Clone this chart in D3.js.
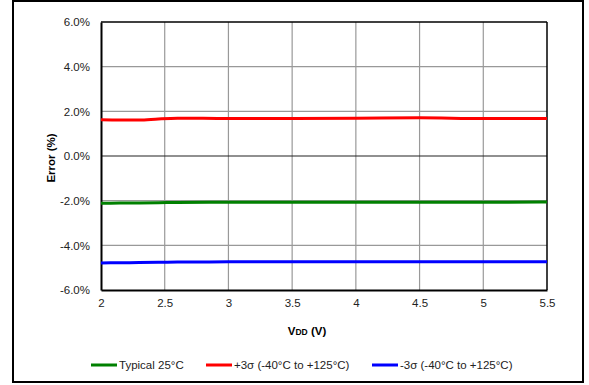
<!DOCTYPE html>
<html><head><meta charset="utf-8">
<script src="https://cdn.jsdelivr.net/npm/d3@7"></script>
<style>body{margin:0;background:#fff}svg{display:block;font-family:"Liberation Sans",Arial,sans-serif}</style>
</head><body><svg id="c" width="589" height="385"></svg>
<script>
const vdd      = [2, 2.15, 2.3, 2.45, 2.6, 3, 3.5, 4, 4.5, 5, 5.5];
const typical  = [-2.12, -2.11, -2.1, -2.09, -2.08, -2.07, -2.07, -2.07, -2.07, -2.07, -2.06];
const plus3s   = [1.62, 1.61, 1.61, 1.66, 1.69, 1.68, 1.68, 1.69, 1.71, 1.68, 1.68];
const minus3s  = [-4.79, -4.78, -4.77, -4.76, -4.75, -4.74, -4.74, -4.74, -4.74, -4.73, -4.73];
const xTicks   = [2, 2.5, 3, 3.5, 4, 4.5, 5, 5.5];
const yTicks   = [-6, -4, -2, 0, 2, 4, 6];
const seriesNames = ["Typical 25°C", "+3σ (-40°C to +125°C)", "-3σ (-40°C to +125°C)"];
const seriesColors = ["#008000", "#ff0000", "#0000ff"];

const svg = d3.select("#c");
const L = 101, R = 547, T = 22, B = 290;
const x = d3.scaleLinear().domain([2, 5.5]).range([L, R]);
const y = d3.scaleLinear().domain([-6, 6]).range([B, T]);

// outer frame
svg.append("rect").attr("x", 13).attr("y", 1).attr("width", 570).attr("height", 381)
  .attr("fill", "none").attr("stroke", "#000").attr("stroke-width", 2);

// gridlines
svg.append("g").selectAll("line").data(xTicks.slice(1, -1)).join("line")
  .attr("x1", d => x(d)).attr("x2", d => x(d)).attr("y1", T).attr("y2", B)
  .attr("stroke", "#999").attr("stroke-width", 1.2);
svg.append("g").selectAll("line").data(yTicks.filter(d => d !== 0 && d !== 6 && d !== -6)).join("line")
  .attr("x1", L).attr("x2", R).attr("y1", d => y(d)).attr("y2", d => y(d))
  .attr("stroke", "#999").attr("stroke-width", 1.2);
svg.append("line").attr("x1", L).attr("x2", R).attr("y1", y(0)).attr("y2", y(0))
  .attr("stroke", "#222").attr("stroke-width", 1.2);

// plot frame
svg.append("line").attr("x1", L).attr("x2", R).attr("y1", T).attr("y2", T).attr("stroke", "#000").attr("stroke-width", 1.5);
svg.append("line").attr("x1", R).attr("x2", R).attr("y1", T).attr("y2", B).attr("stroke", "#000").attr("stroke-width", 1.5);

// axes
const yAxis = d3.axisLeft(y).tickValues(yTicks).tickSize(0).tickPadding(11).tickFormat(d => d.toFixed(1) + "%");
const gy = svg.append("g").attr("transform", `translate(${L},0)`).call(yAxis);
gy.select(".domain").attr("stroke", "#000").attr("stroke-width", 2);
gy.selectAll("text").attr("font-size", 11.5).attr("fill", "#222").attr("font-family", "Liberation Sans, Arial");

const xAxis = d3.axisBottom(x).tickValues(xTicks).tickSize(0).tickPadding(9).tickFormat(d3.format("~g"));
const gx = svg.append("g").attr("transform", `translate(0,${B})`).call(xAxis);
gx.select(".domain").attr("stroke", "#000").attr("stroke-width", 2);
gx.selectAll("text").attr("font-size", 11.5).attr("fill", "#222").attr("font-family", "Liberation Sans, Arial");

// series
const line = d3.line().x((d, i) => x(vdd[i])).y(d => y(d)).curve(d3.curveMonotoneX);
[typical, plus3s, minus3s].forEach((s, k) => {
  svg.append("path").datum(s).attr("d", line).attr("fill", "none")
    .attr("stroke", seriesColors[k]).attr("stroke-width", 3);
});

// titles
svg.append("text").attr("transform", `translate(55,158) rotate(-90)`)
  .attr("text-anchor", "middle").attr("font-size", 11.5).attr("font-weight", "bold").text("Error (%)");
const xt = svg.append("text").attr("x", 307).attr("y", 335).attr("text-anchor", "middle")
  .attr("font-size", 11.5).attr("font-weight", "bold");
xt.append("tspan").text("V");
xt.append("tspan").attr("font-size", 8.5).text("DD");
xt.append("tspan").text(" (V)");

// legend
const legX = [91, 206, 372];
seriesNames.forEach((n, k) => {
  const g = svg.append("g").attr("transform", `translate(${legX[k]},365)`);
  g.append("line").attr("x1", 0).attr("x2", 26).attr("y1", 0).attr("y2", 0)
    .attr("stroke", seriesColors[k]).attr("stroke-width", 3);
  g.append("text").attr("x", 28).attr("y", 4).attr("font-size", 11.5).attr("fill", "#222").text(n);
});
</script></body></html>
